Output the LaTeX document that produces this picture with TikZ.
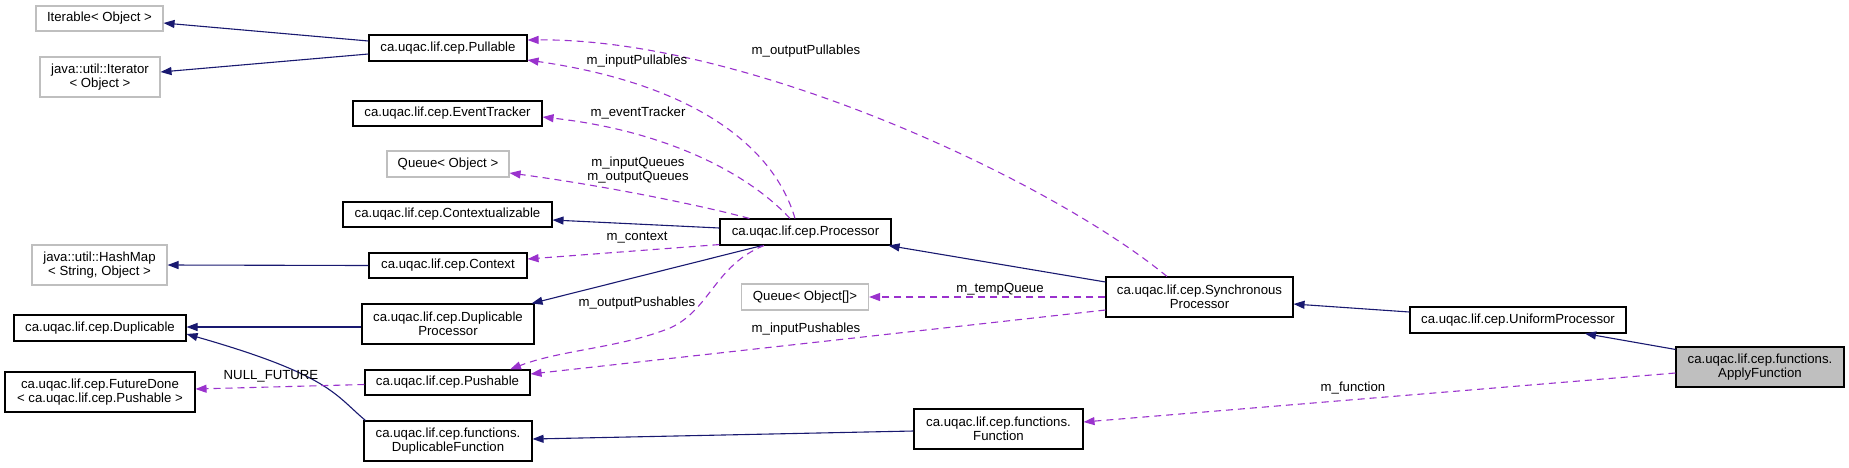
\documentclass[tikz,border=0pt]{standalone}
\usepackage{fontspec}
\setmainfont{Liberation Sans}
\usetikzlibrary{arrows.meta}
\definecolor{midblue}{RGB}{25,25,112}
\definecolor{purp}{RGB}{154,50,205}
\definecolor{lgray}{RGB}{191,191,191}
\begin{document}
\begin{tikzpicture}[x=1pt,y=-1pt,
  every node/.style={font=\fontsize{13.2}{14.3}\selectfont},
  cbox/.style={draw=black, line width=1.1pt, fill=white, inner sep=0pt, align=center},
  gbox/.style={cbox, draw=lgray},
  inh/.style={draw=midblue, line width=1.1pt, -{Triangle[length=11pt,width=8pt,fill=midblue]}},
  assoc/.style={draw=purp, line width=1.1pt, dash pattern=on 7pt off 5pt, -{Triangle[length=11pt,width=8pt,fill=purp]}},
  lbl/.style={inner sep=0pt, align=center}]
\useasboundingbox (0,0) rectangle (1849,467);
% nodes
\node[gbox, minimum width=127pt, minimum height=25pt] (iter) at (99.5,18.5) {Iterable< Object >};
\node[gbox, minimum width=120pt, minimum height=40pt] (iterator) at (100,77) {java::util::Iterator\\< Object >};
\node[cbox, minimum width=158pt, minimum height=26pt] (pullable) at (448,48) {ca.uqac.lif.cep.Pullable};
\node[cbox, minimum width=189pt, minimum height=25pt] (eventtracker) at (447.5,113.5) {ca.uqac.lif.cep.EventTracker};
\node[gbox, minimum width=122pt, minimum height=26pt] (queueobj) at (448,164) {Queue< Object >};
\node[cbox, minimum width=209pt, minimum height=25pt] (contextualizable) at (447.5,214.5) {ca.uqac.lif.cep.Contextualizable};
\node[gbox, minimum width=135pt, minimum height=40pt] (hashmap) at (99.5,265) {java::util::HashMap\\< String, Object >};
\node[cbox, minimum width=158pt, minimum height=25pt] (context) at (448,265.5) {ca.uqac.lif.cep.Context};
\node[cbox, minimum width=172pt, minimum height=26pt] (duplicable) at (100,328) {ca.uqac.lif.cep.Duplicable};
\node[cbox, minimum width=172pt, minimum height=40pt] (dupproc) at (448,324) {ca.uqac.lif.cep.Duplicable\\Processor};
\node[cbox, minimum width=190pt, minimum height=40pt] (futuredone) at (100,392) {ca.uqac.lif.cep.FutureDone\\< ca.uqac.lif.cep.Pushable >};
\node[cbox, minimum width=165pt, minimum height=25pt] (pushable) at (447.5,382.5) {ca.uqac.lif.cep.Pushable};
\node[cbox, minimum width=168pt, minimum height=40pt] (dupfunc) at (448,441) {ca.uqac.lif.cep.functions.\\DuplicableFunction};
\node[cbox, minimum width=171pt, minimum height=26pt] (processor) at (805.5,232) {ca.uqac.lif.cep.Processor};
\node[gbox, minimum width=127pt, minimum height=26pt] (queueobjarr) at (805,297) {Queue< Object[]>};
\node[cbox, minimum width=187pt, minimum height=40pt] (sync) at (1199.5,297) {ca.uqac.lif.cep.Synchronous\\Processor};
\node[cbox, minimum width=169pt, minimum height=40pt] (function) at (998.5,429) {ca.uqac.lif.cep.functions.\\Function};
\node[cbox, minimum width=216pt, minimum height=26pt] (uniform) at (1518,320) {ca.uqac.lif.cep.UniformProcessor};
\node[cbox, fill=lgray, minimum width=168pt, minimum height=40pt] (apply) at (1760,367) {ca.uqac.lif.cep.functions.\\ApplyFunction};
% inheritance
\draw[inh] ([yshift=7pt]pullable.west) -- ([yshift=-4.5pt]iter.east);
\draw[inh] ([yshift=-6pt]pullable.west) -- ([yshift=5pt]iterator.east);
\draw[inh] ([yshift=4pt]processor.west) -- ([yshift=-5.5pt]contextualizable.east);
\draw[inh] (context.west) -- (hashmap.east);
\draw[inh] ([xshift=-43.5pt]processor.south) -- ([xshift=-3pt]dupproc.north east);
\draw[inh] ([yshift=-3pt]dupproc.west) -- ([yshift=1pt]duplicable.east);
\draw[inh] ([xshift=2pt]dupfunc.north west) .. controls (335,395) and (330,375) .. ([yshift=-6pt]duplicable.east);
\draw[inh] ([yshift=-2pt]function.west) -- ([yshift=2pt]dupfunc.east);
\draw[inh] ([yshift=15pt]sync.west) -- ([xshift=-3pt]processor.south east);
\draw[inh] ([yshift=8pt]uniform.west) -- ([yshift=-7pt]sync.east);
\draw[inh] ([yshift=-3pt]apply.north west) -- ([xshift=67pt]uniform.south);
% associations
\draw[assoc] ([xshift=-10.5pt]processor.north) .. controls (775,150) and (700,85) .. ([yshift=-12pt]pullable.east);
\draw[assoc] ([xshift=-32.5pt]sync.north) .. controls (1050,180) and (745,38) .. ([yshift=8pt]pullable.east);
\draw[assoc] ([xshift=-15.5pt]processor.north) .. controls (745,170) and (660,130) .. ([yshift=-3.5pt]eventtracker.east);
\draw[assoc] ([xshift=30pt]processor.north west) .. controls (700,205) and (600,185) .. ([yshift=-9pt]queueobj.east);
\draw[assoc] ([yshift=1pt]processor.south west) -- ([yshift=6.5pt]context.east);
\draw[assoc] ([xshift=-41.5pt]processor.south) .. controls (715,265) and (710,310) .. (670,328) .. controls (620,348) and (560,350) .. ([xshift=62.5pt]pushable.north);
\draw[assoc] ([yshift=-13pt]sync.west) -- ([yshift=8.5pt]pushable.east);
\draw[assoc] (sync.west) -- (queueobjarr.east);
\draw[assoc] ([yshift=-2pt]pushable.west) -- ([yshift=3pt]futuredone.east);
\draw[assoc] ([yshift=-6pt]apply.west) -- ([yshift=7pt]function.east);
% labels
\node[lbl] (l1) at (806,51) {m\_outputPullables};
\node[lbl] (l2) at (637,61) {m\_inputPullables};
\node[lbl] (l3) at (638,113) {m\_eventTracker};
\node[lbl] (l4) at (638,170) {m\_inputQueues\\m\_outputQueues};
\node[lbl] (l5) at (637,238) {m\_context};
\node[lbl] (l6) at (637,303) {m\_outputPushables};
\node[lbl] (l7) at (1000,289) {m\_tempQueue};
\node[lbl] (l8) at (806,329) {m\_inputPushables};
\node[lbl] (l9) at (271,376) {NULL\_FUTURE};
\node[lbl] (l10) at (1353,388) {m\_function};
\end{tikzpicture}
\end{document}
